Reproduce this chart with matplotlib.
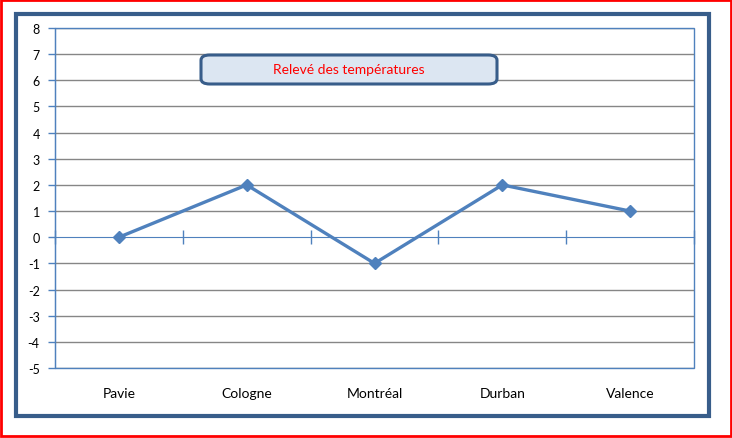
import matplotlib.pyplot as plt
from matplotlib.patches import Rectangle, FancyBboxPatch
import matplotlib.transforms as mtransforms

# data
villes = ["Pavie", "Cologne", "Montréal", "Durban", "Valence"]
temperatures = [0, 2, -1, 2, 1]
y_ticks = list(range(-5, 9))
titre = "Relevé des températures"

W, H = 732, 439
fig = plt.figure(figsize=(W / 100, H / 100), dpi=100)
plt.rcParams['font.family'] = ['Lato', 'DejaVu Sans']
plt.rcParams['axes.unicode_minus'] = False

blue_line = '#4F81BD'
frame_blue = '#385D8A'

# outer red border + chart frame (pixel coords -> figure fraction)
def fx(x): return x / W
def fy(y): return 1 - y / H

fig.patches.append(Rectangle((fx(1), fy(437)), fx(730), 436 / H, transform=fig.transFigure,
                             fill=False, edgecolor='#FF0000', lw=2))
fig.patches.append(Rectangle((fx(16), fy(417)), fx(693), 402 / H, transform=fig.transFigure,
                             fill=False, edgecolor=frame_blue, lw=3))

ax = fig.add_axes([fx(55), fy(369), fx(694 - 55), (369 - 29) / H])
x = list(range(len(villes)))
ax.plot(x, temperatures, color=blue_line, lw=2.4, marker='D', markersize=6, zorder=5)

ax.set_xlim(-0.5, len(villes) - 0.5)
ax.set_ylim(-5, 8)
ax.set_yticks(y_ticks)
for t in y_ticks:
    if t != 0:
        ax.axhline(t, color='#868686', lw=1, zorder=1)

for s in ['top', 'right']:
    ax.spines[s].set_visible(False)
ax.spines['left'].set_color(blue_line)
ax.spines['bottom'].set_color(blue_line)
ax.spines['bottom'].set_position(('data', 0))
ax.spines['bottom'].set_zorder(3)
ax.add_patch(Rectangle((0, 0), 1, 1, transform=ax.transAxes, fill=False,
                       edgecolor=blue_line, lw=1, clip_on=False, zorder=2))

ax.set_xticks([i - 0.5 for i in range(len(villes) + 1)])
ax.set_xticklabels([])
ax.tick_params(axis='x', direction='inout', length=10, color=blue_line, width=1)
ax.tick_params(axis='y', direction='out', length=5, color=blue_line, width=1,
               labelsize=9, pad=6)

# category labels below the plot area
trans = mtransforms.blended_transform_factory(ax.transData, ax.transAxes)
for i, v in enumerate(villes):
    ax.text(i, -25 / 340, v, transform=trans, ha='center', va='center', fontsize=10)

# title box
box = FancyBboxPatch((fx(201), fy(85)), fx(296), 29 / H, transform=fig.transFigure,
                     boxstyle='round,pad=0,rounding_size=0.012', facecolor='#DCE6F2',
                     edgecolor=frame_blue, lw=2.2, zorder=10)
fig.patches.append(box)
fig.text(fx(349), fy(70.5), titre, color='#FF0000', fontsize=10, ha='center', va='center', zorder=11)

fig.savefig('out.png', dpi=100)
